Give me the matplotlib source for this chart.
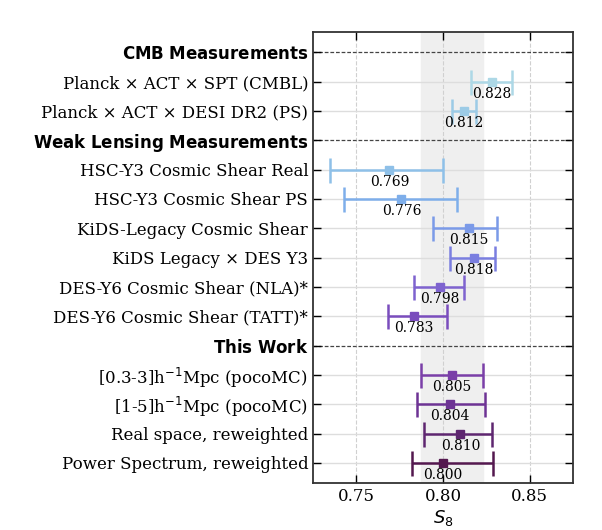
import matplotlib.pyplot as plt

# rows from top to bottom; None marks a section header
labels = [
    r'$\bf{CMB\ Measurements}$',
    'Planck × ACT × SPT (CMBL)',
    'Planck × ACT × DESI DR2 (PS)',
    r'$\bf{Weak\ Lensing\ Measurements}$',
    'HSC-Y3 Cosmic Shear Real',
    'HSC-Y3 Cosmic Shear PS',
    'KiDS-Legacy Cosmic Shear',
    'KiDS Legacy × DES Y3',
    'DES-Y6 Cosmic Shear (NLA)*',
    'DES-Y6 Cosmic Shear (TATT)*',
    r'$\bf{This\ Work}$',
    r'[0.3-3]h$^{-1}$Mpc (pocoMC)',
    r'[1-5]h$^{-1}$Mpc (pocoMC)',
    'Real space, reweighted',
    'Power Spectrum, reweighted',
]
s8 = [None, 0.828, 0.812, None, 0.769, 0.776, 0.815, 0.818, 0.798, 0.783,
      None, 0.805, 0.804, 0.810, 0.800]
err_lo = [None, 0.012, 0.007, None, 0.034, 0.033, 0.021, 0.014, 0.015, 0.015,
          None, 0.018, 0.019, 0.021, 0.018]
err_hi = [None, 0.012, 0.007, None, 0.031, 0.032, 0.016, 0.012, 0.014, 0.019,
          None, 0.018, 0.020, 0.018, 0.029]
colors = [None, '#add8e6', '#9ccbe6', None, '#8ec0e8', '#7eaeea', '#7b9ae8',
          '#7a7ee0', '#7e63cf', '#7a4dbd', None, '#7a3fa8', '#6d3394',
          '#5e2670', '#54184f']

band = (0.787, 0.823)

fig, ax = plt.subplots(figsize=(6.02, 5.3), dpi=100)
fig.subplots_adjust(left=0.52, right=0.952, top=0.94, bottom=0.088)

ax.axvspan(band[0], band[1], color='#efefef', zorder=0)
for x in [0.75, 0.80, 0.85]:
    ax.axvline(x, color='#d0d0d0', ls='--', lw=0.8, zorder=0.5)

for i, lab in enumerate(labels):
    if s8[i] is None:
        ax.axhline(i, color='#444444', ls=(0, (3, 1.5)), lw=0.9, zorder=1)
        continue
    ax.axhline(i, color='#dddddd', lw=1.0, zorder=0.8)
    ax.errorbar(s8[i], i, xerr=[[err_lo[i]], [err_hi[i]]], fmt='s',
                color=colors[i], ms=6, lw=1.8, capsize=9, capthick=1.8, zorder=3)
    ax.text(s8[i], i + 0.41, f'{s8[i]:.3f}', ha='center', va='center',
            family='DejaVu Serif', fontsize=10, zorder=4)

ax.set_yticks(range(len(labels)))
ax.set_yticklabels(labels, family='DejaVu Serif', fontsize=12)
ax.set_ylim(len(labels) - 0.3, -0.7)
ax.set_xlim(0.725, 0.875)
ax.set_xticks([0.75, 0.80, 0.85])
ax.set_xticklabels(['0.75', '0.80', '0.85'], family='DejaVu Serif', fontsize=12)
ax.set_xlabel(r'$S_8$', fontsize=13, labelpad=2)

ax.tick_params(direction='in', length=6, width=1.0, top=True, right=True)
for sp in ax.spines.values():
    sp.set_linewidth(1.3)
    sp.set_color('#333333')

fig.savefig('out.png', dpi=100)
